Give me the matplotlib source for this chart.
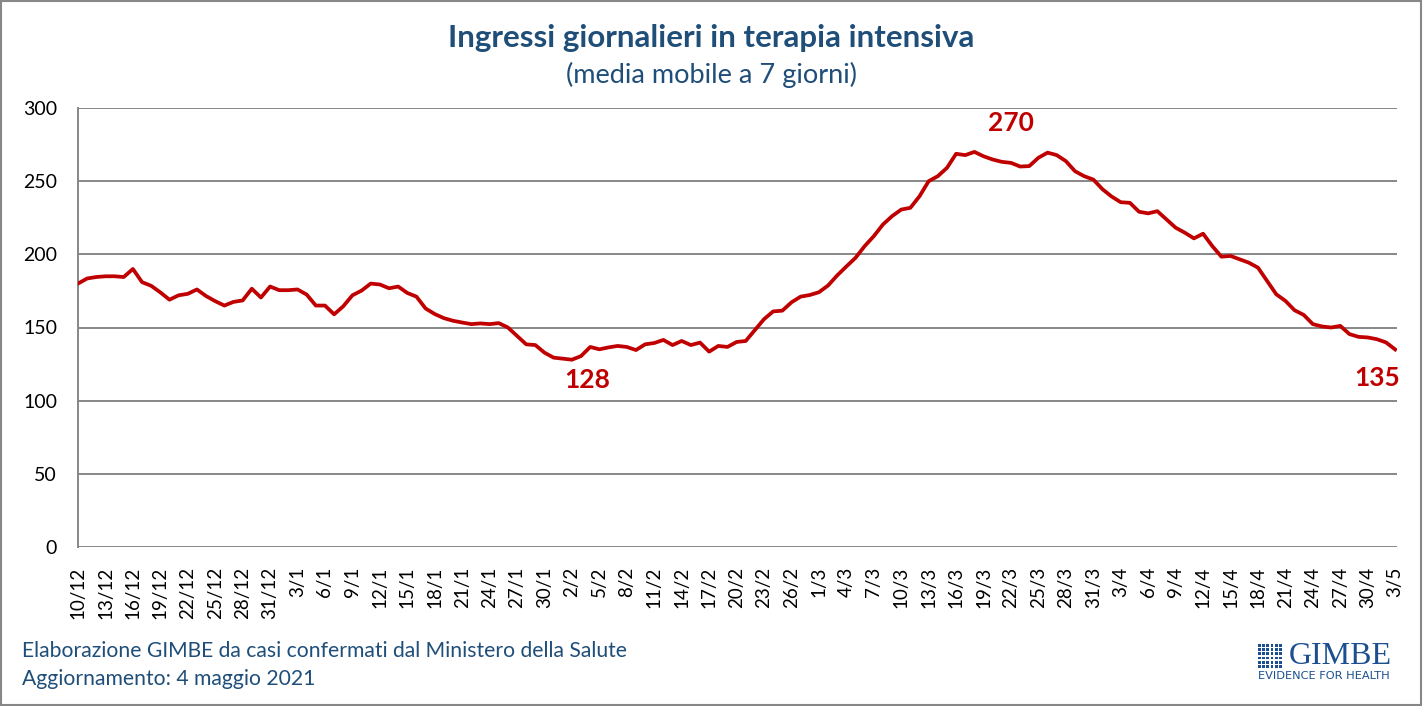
import matplotlib
matplotlib.use("Agg")
import matplotlib.pyplot as plt
from matplotlib.patches import Rectangle
import pandas as pd

# daily dates, 10/12/2020 -> 3/5/2021
dates = pd.date_range("2020-12-10", "2021-05-03", freq="D")
date_labels = [f"{d.day}/{d.month}" for d in dates]

# 7-day moving average of ICU admissions
icu_admissions = [
    180, 183.5, 184.5, 185, 185, 184.5, 190, 181, 178.5, 174,
    169, 172, 173, 176, 171.5, 168, 165, 167.5, 168.5, 176.5,
    170.5, 178, 175.5, 175.5, 176, 172.5, 165, 165, 159, 164.5,
    172, 175.2, 180, 179.4, 176.8, 178, 173.6, 171.1, 163, 159.2,
    156.4, 154.6, 153.4, 152.3, 152.8, 152.3, 153, 150, 144.3, 138.5,
    138, 132.8, 129.4, 128.7, 128, 130.5, 136.7, 135.1, 136.4, 137.4,
    136.7, 134.6, 138.5, 139.4, 141.5, 138, 140.8, 138, 139.7, 133.5,
    137.4, 136.7, 140.1, 140.8, 148.2, 155.7, 161, 161.5, 167.2, 171.1,
    172.2, 174.1, 178.7, 185.6, 191.7, 197.6, 205.6, 212.4, 220.4, 226.1,
    230.6, 231.8, 239.7, 250, 253.4, 259.1, 268.7, 267.8, 270, 267,
    264.8, 263.2, 262.5, 260, 260.3, 266, 269.5, 267.8, 263.7, 256.8,
    253.4, 251.1, 244.5, 239.5, 235.6, 235.2, 229.1, 228, 229.5, 223.9,
    218.2, 214.8, 210.9, 214.1, 205.7, 198.4, 198.9, 196.6, 194.3, 190.9,
    181.8, 172.7, 168.2, 161.8, 158.6, 152.3, 150.7, 150, 151.1, 145.5,
    143.6, 143.2, 142, 139.8, 135,
]

# labelled points (max, min, last)
labels_idx = [98, 54, 144]

blue = "#1F4E79"
red = "#C00000"
grey = "#878787"

plt.rcParams["font.family"] = ["Lato", "DejaVu Sans"]

fig = plt.figure(figsize=(14.24, 7.06), dpi=100)
ax = fig.add_axes([78 / 1424, 1 - 547 / 706, (1397 - 78) / 1424, (547 - 108) / 706])

x = list(range(len(icu_admissions)))
ax.plot(x, icu_admissions, color=red, linewidth=2.7, solid_joinstyle="round", zorder=3)

ax.set_xlim(0, len(x) - 1 + 0.2)
ax.set_ylim(0, 300)
ax.set_yticks(range(0, 301, 50))
ax.yaxis.grid(True, color=grey, linewidth=1.4)
ax.set_axisbelow(True)
for s in ["top", "right", "bottom"]:
    ax.spines[s].set_visible(False)
ax.spines["left"].set_color(grey)
ax.spines["left"].set_linewidth(1.4)
ax.tick_params(axis="y", length=0, labelsize=14, pad=15)
ax.tick_params(axis="x", length=0, labelsize=13.5, pad=14)

ax.set_xticks(x[::3])
ax.set_xticklabels(date_labels[::3], rotation=90, va="top", ha="center")

# value annotations, offsets in (days, units)
offsets = {98: (4, 20), 54: (1.7, -14), 144: (-2, -19.5)}
for i in labels_idx:
    dx, dy = offsets[i]
    ax.text(x[i] + dx, icu_admissions[i] + dy, f"{icu_admissions[i]:.0f}",
            color=red, fontsize=19, fontweight="bold", ha="center", va="center")

fig.text(711 / 1424, 1 - 38 / 706, "Ingressi giornalieri in terapia intensiva",
         ha="center", va="center", fontsize=22.5, fontweight="bold", color=blue)
fig.text(712 / 1424, 1 - 75 / 706, "(media mobile a 7 giorni)",
         ha="center", va="center", fontsize=19.5, color=blue)

fig.text(22 / 1424, 1 - 651 / 706, "Elaborazione GIMBE da casi confermati dal Ministero della Salute",
         ha="left", va="center", fontsize=15.2, color=blue)
fig.text(22 / 1424, 1 - 679 / 706, "Aggiornamento: 4 maggio 2021",
         ha="left", va="center", fontsize=15.2, color=blue)

# GIMBE logo: small square grid + wordmark
logo_blue = "#1B4F8F"
cell = 2.8
step = 4.2
for r in range(6):
    for c in range(6):
        fig.add_artist(Rectangle(((1258 + c * step) / 1424, 1 - (644 + r * step + cell) / 706),
                                 cell / 1424, cell / 706, facecolor=logo_blue, edgecolor="none",
                                 transform=fig.transFigure))
fig.text(1289 / 1424, 1 - 657 / 706, "GIMBE", ha="left", va="center",
         fontsize=23, color=logo_blue, family="Liberation Serif")
fig.text(1258 / 1424, 1 - 676 / 706, "EVIDENCE FOR HEALTH", ha="left", va="center",
         fontsize=8.2, color=logo_blue, family="DejaVu Sans")

# outer frame
fig.add_artist(Rectangle((0.001, 0.002), 0.997, 0.996, fill=False, edgecolor=grey,
                         linewidth=1.5, transform=fig.transFigure))

fig.savefig("out.png", dpi=100)
